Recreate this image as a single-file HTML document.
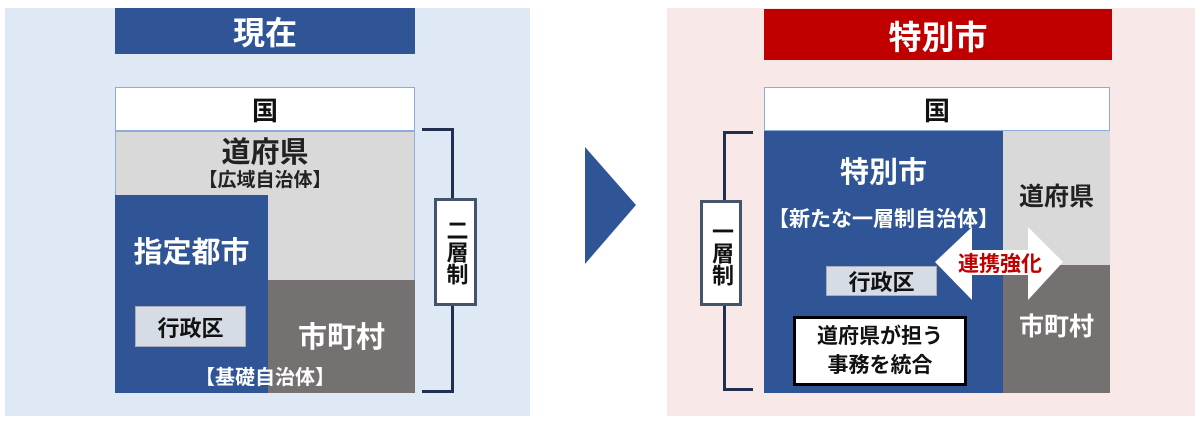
<!DOCTYPE html>
<html><head><meta charset="utf-8"><style>
body{margin:0;width:1200px;height:424px;background:#fff;position:relative;overflow:hidden;font-family:"Liberation Sans","Noto Sans CJK JP",sans-serif;font-weight:bold}
div{position:absolute;box-sizing:border-box}
.c{display:flex;align-items:center;justify-content:center;text-align:center}
</style></head><body>
<div style="left:5px;top:8px;width:525px;height:408px;background:#dee9f5"></div>
<div class="c" style="left:115px;top:8px;width:300px;height:46px;background:#2f5597;color:#fff;font-size:32px">現在</div>
<div class="c" style="left:115px;top:87px;width:300px;height:44px;background:#fff;border:1px solid #8faadc;font-size:26px;color:#111">国</div>
<div style="left:115px;top:131px;width:300px;height:262px;background:#d9d9d9;border:1px solid #8faadc"></div>
<div class="c" style="left:115px;top:133px;width:300px;height:34px;font-size:29px;color:#222">道府県</div>
<div class="c" style="left:115px;top:166px;width:300px;height:24px;font-size:19px;color:#222">【広域自治体】</div>
<div style="left:268px;top:280px;width:147px;height:113px;background:#767171"></div>
<div style="left:115px;top:195px;width:153px;height:198px;background:#2f5597"></div>
<div class="c" style="left:115px;top:230px;width:153px;height:40px;font-size:29px;color:#fff">指定都市</div>
<div class="c" style="left:135px;top:306px;width:111px;height:41px;background:#d6dce5;border:1px solid #aab;font-size:22px;color:#111">行政区</div>
<div class="c" style="left:268px;top:315px;width:147px;height:40px;font-size:29px;color:#fff">市町村</div>
<div class="c" style="left:190px;top:362px;width:150px;height:26px;font-size:20px;color:#fff">【基礎自治体】</div>
<div style="left:422px;top:128px;width:32px;height:265px;border:3px solid #222f4f;border-left:none"></div>
<div class="c" style="left:434px;top:198px;width:43px;height:108px;background:#fff;border:3px solid #44546a;font-size:22px;line-height:24px;writing-mode:vertical-rl;color:#111">二層制</div>
<svg style="position:absolute;left:0;top:0" width="1200" height="424"><polygon points="585,147 636,205 585,264" fill="#2f5597"/></svg>
<div style="left:667px;top:8px;width:528px;height:408px;background:#f8e9e8"></div>
<div class="c" style="left:764px;top:9px;width:348px;height:51px;background:#c00000;color:#fff;font-size:33px">特別市</div>
<div class="c" style="left:764px;top:87px;width:346px;height:44px;background:#fff;border:1px solid #8faadc;font-size:26px;color:#111">国</div>
<div style="left:764px;top:131px;width:239px;height:262px;background:#2f5597"></div>
<div style="left:1003px;top:131px;width:107px;height:134px;background:#d9d9d9"></div>
<div style="left:1003px;top:265px;width:107px;height:128px;background:#767171"></div>
<div class="c" style="left:764px;top:150px;width:239px;height:40px;font-size:29px;color:#fff">特別市</div>
<div class="c" style="left:764px;top:203px;width:239px;height:30px;font-size:21px;color:#fff;white-space:nowrap">【新たな一層制自治体】</div>
<div class="c" style="left:1003px;top:175px;width:107px;height:40px;font-size:25px;color:#222">道府県</div>
<div class="c" style="left:1003px;top:305px;width:107px;height:40px;font-size:25px;color:#fff">市町村</div>
<div class="c" style="left:826px;top:266px;width:111px;height:30px;background:#d6dce5;border:1px solid #aab;font-size:22px;color:#111">行政区</div>
<div class="c" style="left:793px;top:316px;width:174px;height:70px;background:#fff;border:3px solid #000;font-size:21px;line-height:29px;color:#111">道府県が担う<br>事務を統合</div>
<svg style="position:absolute;left:0;top:0" width="1200" height="424"><polygon points="935,262 972,227 972,250 1028,250 1028,227 1063,262 1028,300 1028,275 972,275 972,300" fill="#fff"/></svg>
<div class="c" style="left:940px;top:249px;width:120px;height:28px;font-size:21px;color:#c00000">連携強化</div>
<div style="left:723px;top:131px;width:30px;height:260px;border:3px solid #222f4f;border-right:none"></div>
<div class="c" style="left:700px;top:200px;width:42px;height:106px;background:#fff;border:3px solid #44546a;font-size:22px;line-height:24px;writing-mode:vertical-rl;color:#111">一層制</div>
</body></html>
